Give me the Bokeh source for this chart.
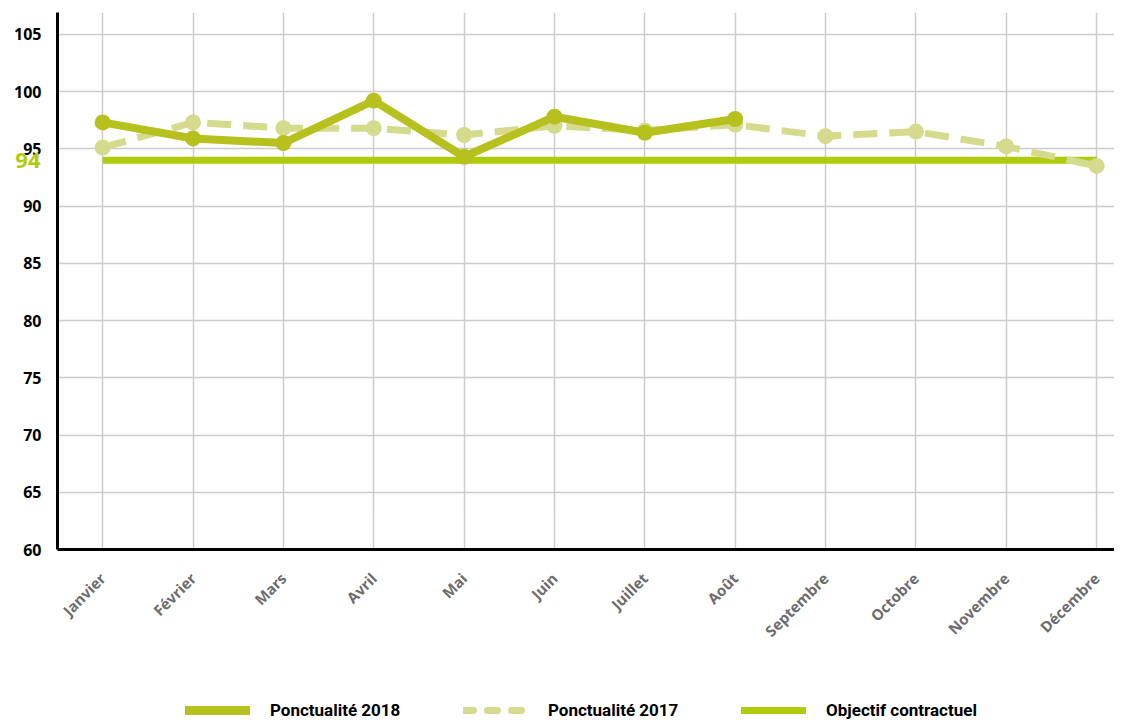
import math
from bokeh.plotting import figure
from bokeh.layouts import column
from bokeh.models import FixedTicker, Legend, LegendItem, LinearAxis, Range1d
from bokeh.embed import file_html
from bokeh.resources import INLINE

months = ["Janvier", "Février", "Mars", "Avril", "Mai", "Juin", "Juillet",
          "Août", "Septembre", "Octobre", "Novembre", "Décembre"]
ponct_2018 = [97.3, 95.9, 95.5, 99.2, 94.3, 97.8, 96.4, 97.6]
ponct_2017 = [95.1, 97.3, 96.8, 96.8, 96.2, 97.0, 96.6, 97.1, 96.1, 96.5, 95.2, 93.5]
objectif = 94
y_ticks = [60, 65, 70, 75, 80, 85, 90, 95, 100, 105]
legend_labels = ["Ponctualité 2018", "Ponctualité 2017", "Objectif contractuel"]

C2018 = "#B7C11E"
C2017 = "#D6DA8C"
COBJ = "#B0CA0C"

x_all = list(range(len(months)))
x_2018 = x_all[:len(ponct_2018)]

p = figure(width=1114, height=684, output_backend="svg", toolbar_location=None,
           x_range=Range1d(-0.5, 11.198), y_range=Range1d(60, 106.9),
           min_border_left=57, min_border_top=12, min_border_right=0,
           min_border_bottom=135)
p.outline_line_color = None

# objective line
p.line([x_all[0], x_all[-1]], [objectif, objectif], line_color=COBJ, line_width=7)
# 2017
p.line(x_all, ponct_2017, line_color=C2017, line_width=7, line_dash="24 12")
p.scatter(x_all, ponct_2017, size=16, fill_color=C2017, line_color=None)
# 2018
p.line(x_2018, ponct_2018, line_color=C2018, line_width=8, line_join="round")
p.scatter(x_2018, ponct_2018, size=16, fill_color=C2018, line_color=None)

# axes
p.xaxis.ticker = FixedTicker(ticks=x_all)
p.xaxis.major_label_overrides = {i: m for i, m in enumerate(months)}
p.xaxis.major_label_orientation = math.pi / 4
p.xaxis.major_label_text_font = "Open Sans"
p.xaxis.major_label_text_font_style = "bold"
p.xaxis.major_label_text_font_size = "15px"
p.xaxis.major_label_text_color = "#6d6d6d"
p.xaxis.major_label_standoff = 26
p.xaxis.major_tick_out = 0
p.xaxis.major_tick_in = 0
p.xaxis.major_tick_line_color = None
p.xaxis.minor_tick_line_color = None
p.xaxis.axis_line_color = "black"
p.xaxis.axis_line_width = 3

p.yaxis.ticker = FixedTicker(ticks=y_ticks)
p.yaxis.major_label_text_font = "Open Sans"
p.yaxis.major_label_text_font_style = "bold"
p.yaxis.major_label_text_font_size = "16px"
p.yaxis.major_label_text_color = "black"
p.yaxis.major_label_standoff = 16
p.yaxis.major_tick_out = 0
p.yaxis.major_tick_in = 0
p.yaxis.major_tick_line_color = None
p.yaxis.minor_tick_line_color = None
p.yaxis.axis_line_color = "black"
p.yaxis.axis_line_width = 3

# objective value label as an extra (outer) left axis pulled back toward the frame
obj_axis = LinearAxis(ticker=FixedTicker(ticks=[objectif]),
                      axis_line_color=None, major_tick_line_color=None,
                      minor_tick_line_color=None, major_tick_out=0, major_tick_in=0,
                      major_label_standoff=-29, major_label_text_font="Open Sans",
                      major_label_text_font_style="bold", major_label_text_font_size="22px",
                      major_label_text_color=COBJ)
p.add_layout(obj_axis, "left")

p.xgrid.ticker = FixedTicker(ticks=x_all)
p.ygrid.ticker = FixedTicker(ticks=y_ticks[1:])
p.xgrid.grid_line_color = "#cccccc"
p.ygrid.grid_line_color = "#cccccc"
p.xgrid.grid_line_width = 1.5
p.ygrid.grid_line_width = 1.5

# legend strip (separate figure so the legend is not clipped by the main frame);
# the series are drawn there outside its visible range, only their legend swatches show
leg = figure(width=1114, height=36, output_backend="svg", toolbar_location=None,
             x_axis_location=None, y_axis_location=None,
             min_border_left=0, min_border_right=0, min_border_top=0, min_border_bottom=0,
             x_range=Range1d(-0.5, 11.198), y_range=Range1d(0, 1))
leg.outline_line_color = None
leg.xgrid.visible = False
leg.ygrid.visible = False
l18 = leg.line(x_2018, ponct_2018, line_color=C2018, line_width=9, line_cap="round")
l17 = leg.line(x_all, ponct_2017, line_color=C2017, line_width=7, line_dash="10 14",
               line_cap="round")
lobj = leg.line([x_all[0], x_all[-1]], [objectif, objectif], line_color=COBJ,
                line_width=7, line_cap="round")
legend = Legend(items=[LegendItem(label=legend_labels[0], renderers=[l18]),
                       LegendItem(label=legend_labels[1], renderers=[l17]),
                       LegendItem(label=legend_labels[2], renderers=[lobj])],
                orientation="horizontal", location=(128, 0),
                glyph_width=65, glyph_height=14, label_standoff=20,
                label_width=193, spacing=0, padding=0, margin=0,
                border_line_alpha=0, background_fill_alpha=0,
                label_text_font="Roboto", label_text_font_style="bold",
                label_text_font_size="17px", label_text_color="black")
leg.add_layout(legend, "center")

open("out.html", "w").write(file_html(column(p, leg, spacing=0), INLINE))
